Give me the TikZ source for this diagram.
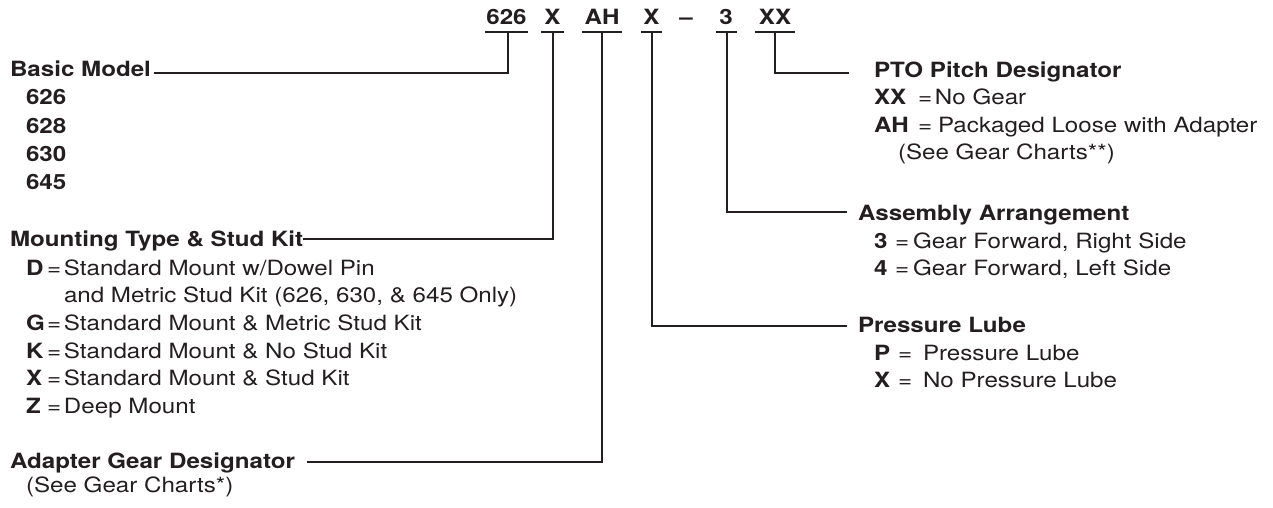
\documentclass[tikz,border=0pt]{standalone}
\usepackage{fontspec}
\setmainfont{TeX Gyre Heros}[FakeStretch=1.15]
\definecolor{ink}{HTML}{231F20}
\begin{document}
\begin{tikzpicture}[x=1pt,y=-1pt,
  txt/.style={anchor=base west,inner sep=0pt,outer sep=0pt,text=ink,font=\fontsize{21}{25}\selectfont},
  head/.style={txt,font=\fontsize{21}{25}\selectfont\bfseries},
  code/.style={anchor=base,inner sep=0pt,text=ink,font=\fontsize{21}{25}\selectfont\bfseries},
  wire/.style={draw=ink,line width=2pt}]
\useasboundingbox (0,0) rectangle (1273,508);
\newcommand{\kv}[3]{\makebox[#1][l]{\bfseries #2}\makebox[#3][l]{=}}
% code string
\node[code] (c626) at (506.5,25) {626};
\node[code] (cx1) at (552.5,25) {X};
\node[code] (cah) at (602,25) {AH};
\node[code] (cx2) at (651.5,25) {X};
\node[code] (cdash) at (686,25) {--};
\node[code] (c3) at (726,25) {3};
\node[code] (cxx) at (775,25) {XX};
% underlines
\coordinate (u626a) at (485,31.7); \coordinate (u626b) at (528,31.7);
\coordinate (ux1a) at (541,31.7); \coordinate (ux1b) at (564,31.7);
\coordinate (uaha) at (582,31.7); \coordinate (uahb) at (622,31.7);
\coordinate (ux2a) at (641,31.7); \coordinate (ux2b) at (662,31.7);
\coordinate (u3a) at (716,31.7); \coordinate (u3b) at (737,31.7);
\coordinate (uxxa) at (755,31.7); \coordinate (uxxb) at (795,31.7);
\foreach \u in {626,x1,ah,x2,3,xx}{\draw[wire] (u\u a) -- (u\u b);}
% left column
\node[head] (basic) at (10,77) {Basic Model};
\node[head] (m626) at (26,105) {626};
\node[head] (m628) at (26,133) {628};
\node[head] (m630) at (26,161) {630};
\node[head] (m645) at (26,189) {645};
\node[head] (mount) at (10,246) {Mounting Type \& Stud Kit};
\node[txt] (mD) at (26,275) {\kv{21pt}{D}{17pt}Standard Mount w/Dowel Pin};
\node[txt] (mD2) at (64,302) {and Metric Stud Kit (626, 630, \& 645 Only)};
\node[txt] (mG) at (26,330) {\kv{21pt}{G}{17pt}Standard Mount \& Metric Stud Kit};
\node[txt] (mK) at (26,358) {\kv{21pt}{K}{17pt}Standard Mount \& No Stud Kit};
\node[txt] (mX) at (26,385) {\kv{21pt}{X}{17pt}Standard Mount \& Stud Kit};
\node[txt] (mZ) at (26,413) {\kv{21pt}{Z}{17pt}Deep Mount};
\node[head] (adapt) at (10,468) {Adapter Gear Designator};
\node[txt] (adapt2) at (26,492) {(See Gear Charts*)};
% right column
\node[head] (pto) at (874,78) {PTO Pitch Designator};
\node[txt] (ptoXX) at (874,105) {\kv{44pt}{XX}{17pt}No Gear};
\node[txt] (ptoAH) at (874,132) {\kv{44pt}{AH}{20pt}Packaged Loose with Adapter};
\node[txt] (ptoSee) at (898,159) {(See Gear Charts**)};
\node[head] (asm) at (858,220) {Assembly Arrangement};
\node[txt] (asm3) at (874,248) {\kv{21pt}{3}{18pt}Gear Forward, Right Side};
\node[txt] (asm4) at (874,275) {\kv{21pt}{4}{18pt}Gear Forward, Left Side};
\node[head] (lube) at (858,332) {Pressure Lube};
\node[txt] (lubeP) at (874,360) {\kv{24pt}{P}{25pt}Pressure Lube};
\node[txt] (lubeX) at (874,387) {\kv{24pt}{X}{25pt}No Pressure Lube};
% connector ends
\coordinate (e626) at ([xshift=3pt]basic.east |- 0,72.7);
\coordinate (ex1) at (mount.east |- 0,239);
\coordinate (eah) at ([xshift=12pt]adapt.east |- 0,462);
\coordinate (ex2) at (847,326);
\coordinate (e3) at (847,212);
\coordinate (exx) at (849,72.7);
% connectors
\draw[wire] (508,31.7) |- (e626);
\draw[wire] (552.5,31.7) |- (ex1);
\draw[wire] (602,31.7) |- (eah);
\draw[wire] (652,31.7) |- (ex2);
\draw[wire] (727,31.7) |- (e3);
\draw[wire] (775,31.7) |- (exx);
\end{tikzpicture}
\end{document}
